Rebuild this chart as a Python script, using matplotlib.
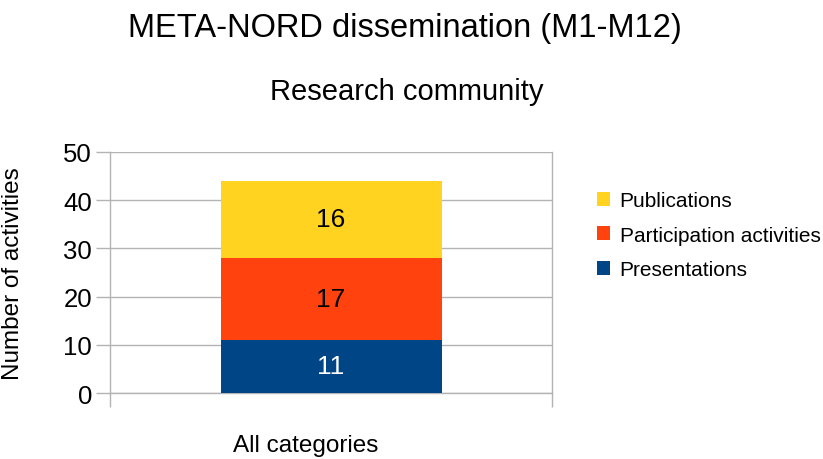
import matplotlib
matplotlib.use('Agg')
import matplotlib.pyplot as plt

plt.rcParams['font.family'] = ['Liberation Sans', 'DejaVu Sans']

category = 'All categories'
series = ['Presentations', 'Participation activities', 'Publications']
values = [11, 17, 16]
colors = ['#004586', '#ff420e', '#ffd320']
label_colors = ['white', 'black', 'black']

fig = plt.figure(figsize=(8.23, 4.6), dpi=100)
ax = fig.add_axes([110 / 823, 1 - 394 / 460, 442 / 823, 241 / 460])

bottom = 0
handles = []
for name, v, c, lc in zip(series, values, colors, label_colors):
    b = ax.bar(0, v, width=1.0, bottom=bottom, color=c, label=name, zorder=3)
    handles.append(b)
    ax.text(0, bottom + v / 2, str(v), ha='center', va='center',
            fontsize=19, color=lc, zorder=4)
    bottom += v

ax.set_xlim(-1, 1)
ax.set_ylim(0, 50)
ax.set_yticks(range(0, 51, 10))
ax.yaxis.grid(True, color='#b3b3b3', linewidth=1, zorder=0)
ax.tick_params(axis='y', labelsize=18.5, length=10, color='#b3b3b3', width=1, pad=3)

# category boundaries get the tick marks, the label sits below
ax.set_xticks([])
ax.set_xticks([-1, 1], minor=True)
ax.tick_params(axis='x', which='minor', length=10, color='#b3b3b3', width=1)
fig.text(306 / 823, 1 - 452 / 460, category, ha='center', va='baseline',
         fontsize=17.5)

for s in ['top']:
    ax.spines[s].set_visible(False)
for s in ['left', 'right', 'bottom']:
    ax.spines[s].set_color('#b3b3b3')
    ax.spines[s].set_linewidth(1)

ax.set_ylabel('Number of activities', fontsize=17.5)
ax.yaxis.set_label_coords((24 - 110) / 442, 0.5)

fig.text((130 + 680) / 2 / 823, 1 - 28 / 460, 'META-NORD dissemination (M1-M12)',
         ha='center', va='center', fontsize=23.5)
fig.text((268 + 545) / 2 / 823, 1 - 92 / 460, 'Research community',
         ha='center', va='center', fontsize=21)

leg = fig.legend(handles[::-1], series[::-1], loc='center left',
                 bbox_to_anchor=(578 / 823, 1 - 236 / 460), frameon=False,
                 fontsize=15, handlelength=0.65, handleheight=0.65,
                 handletextpad=0.45, labelspacing=0.75)

fig.savefig('out.png', dpi=100)
